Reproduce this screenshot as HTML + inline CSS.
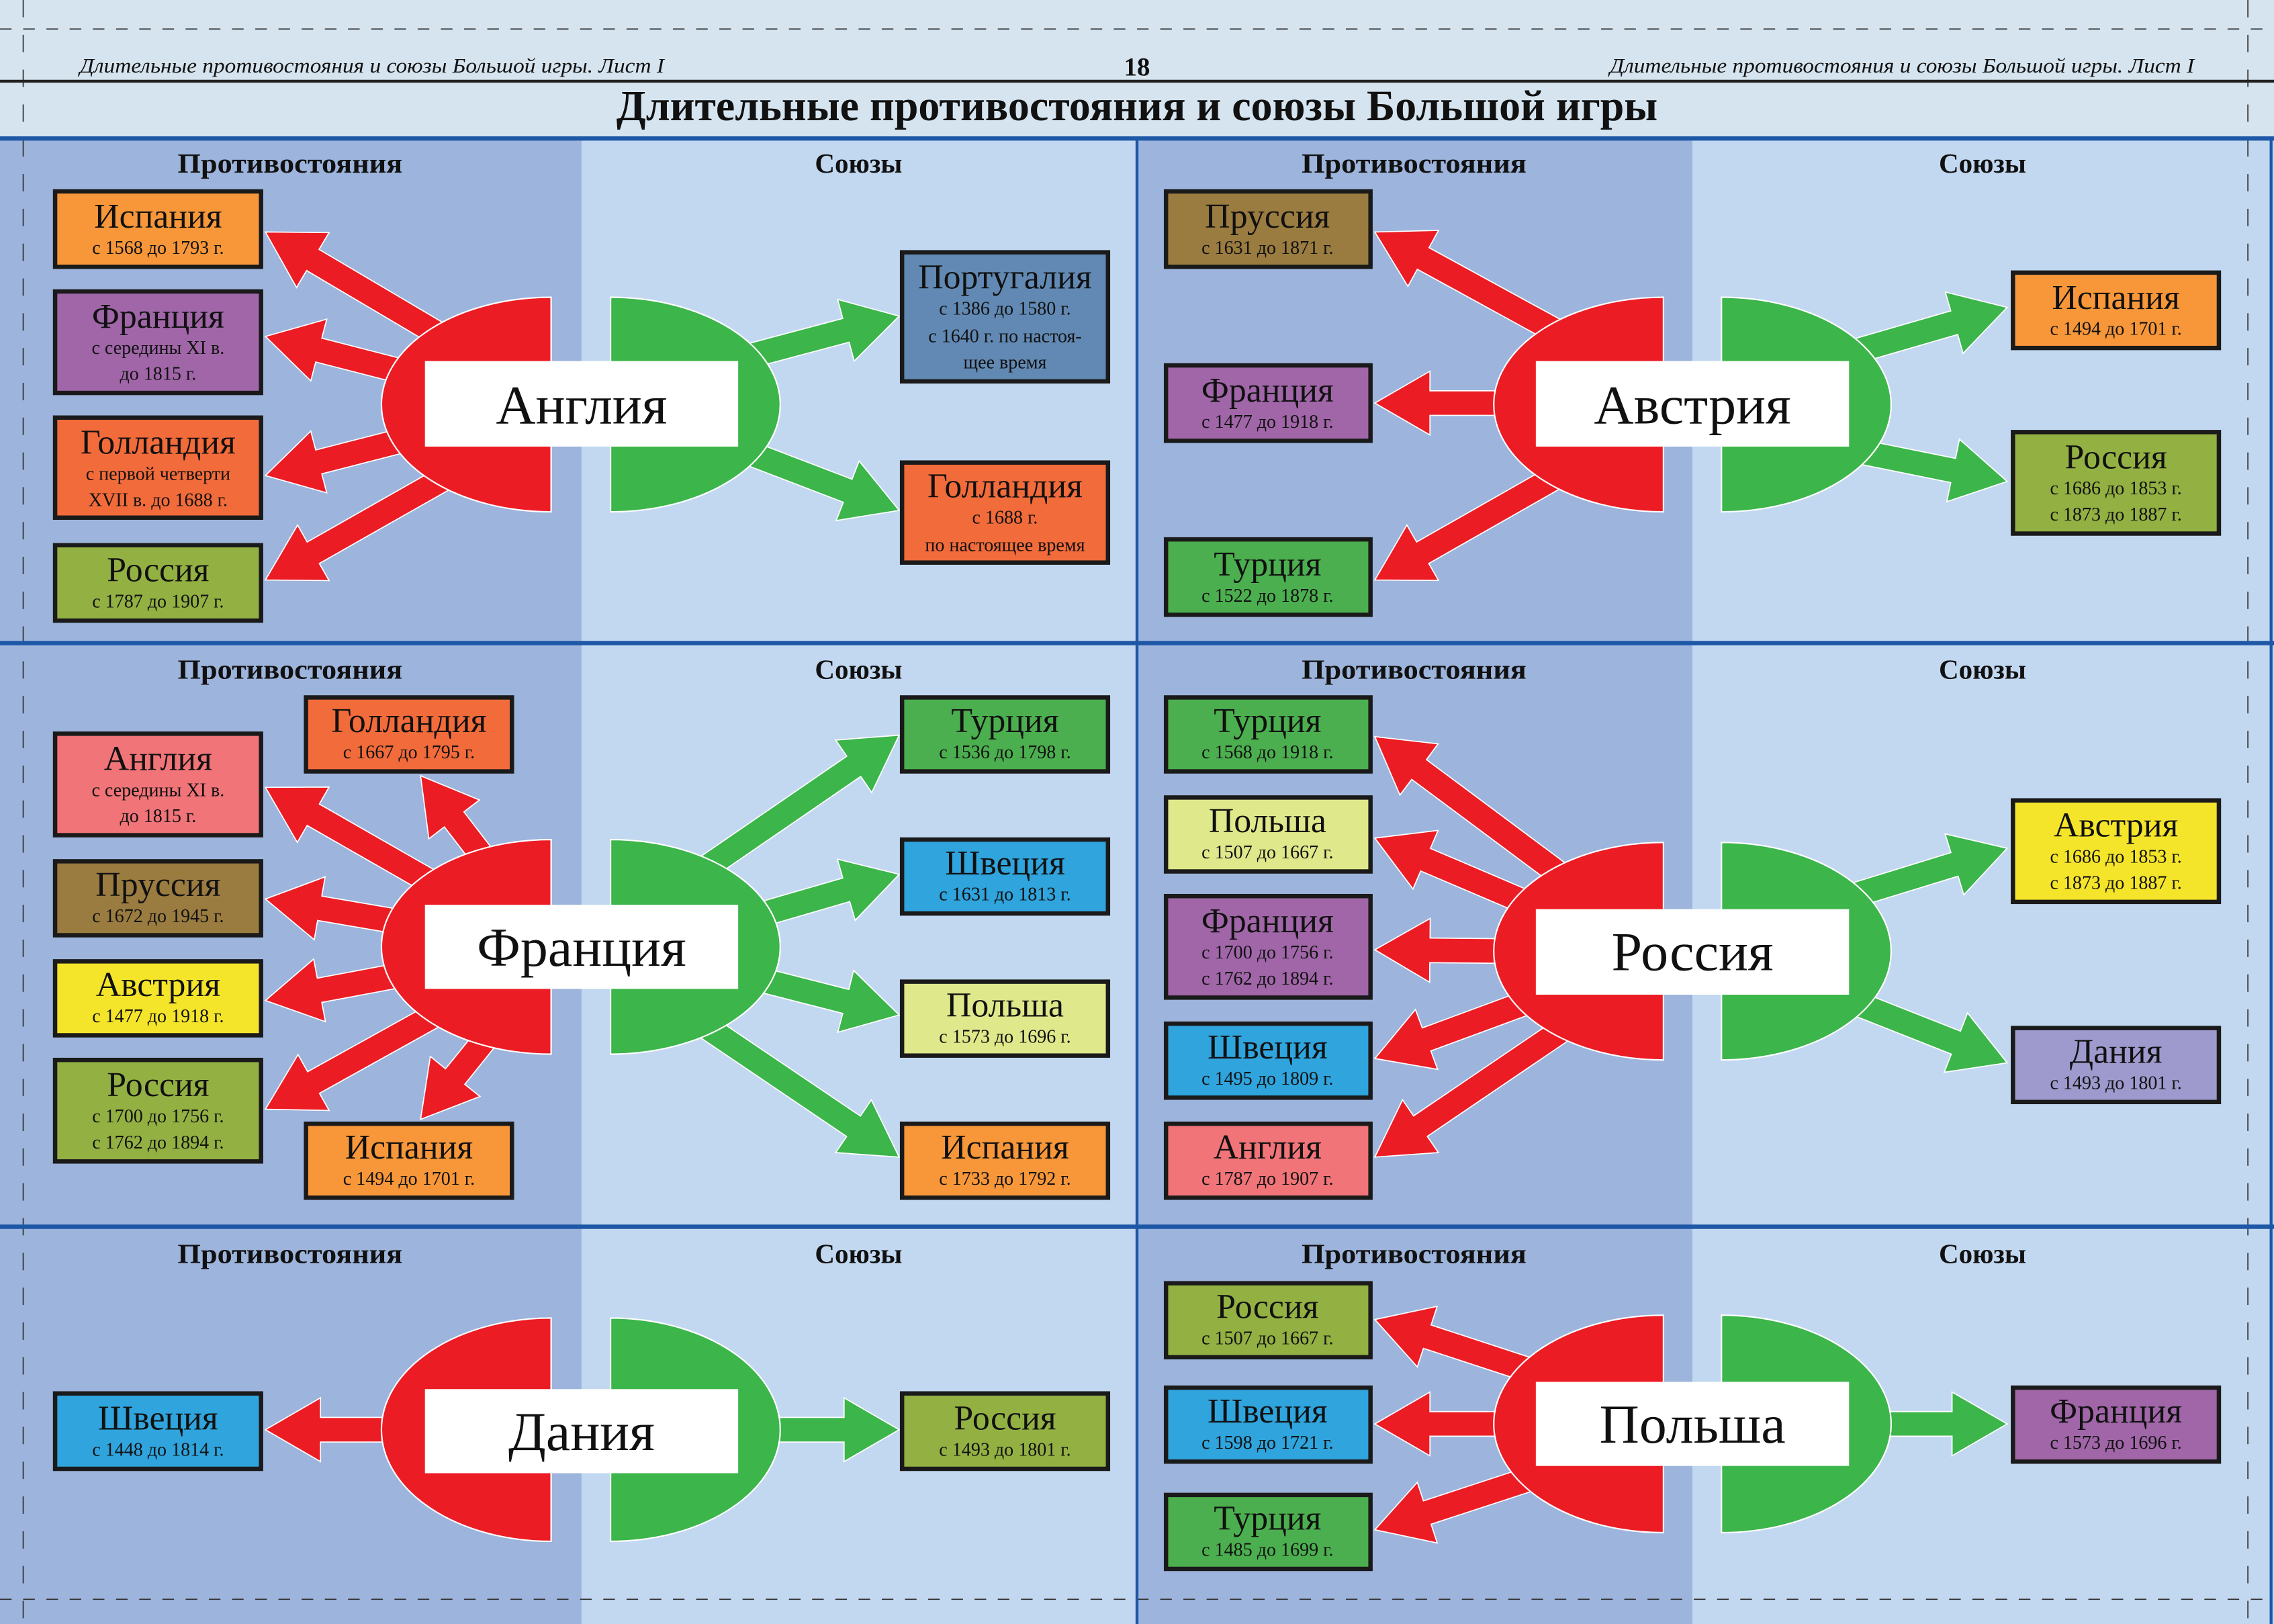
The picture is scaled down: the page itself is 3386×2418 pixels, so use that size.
<!DOCTYPE html>
<html><head><meta charset="utf-8"><style>
html,body{margin:0;padding:0;width:3386px;height:2418px;overflow:hidden;background:#d6e4ef}
svg{display:block}
text{font-family:"Liberation Serif","DejaVu Serif",serif;fill:#111}
.h{font-weight:bold;font-size:19px;text-anchor:middle}
.t{font-size:24px;text-anchor:middle}
.s{font-size:13px;text-anchor:middle}
.c{font-size:38px;text-anchor:middle}
.b{stroke:#1a1a1a;stroke-width:3}
</style></head><body>
<svg id="S" width="3386" height="2418" viewBox="0 0 1568 1120" preserveAspectRatio="none" xmlns="http://www.w3.org/2000/svg">
<rect x="0" y="0" width="1568" height="1120" fill="#d6e4ef"/>
<rect x="0" y="95" width="401" height="1025" fill="#9db4dc"/>
<rect x="401" y="95" width="383" height="1025" fill="#c2d8f0"/>
<rect x="784" y="95" width="383" height="1025" fill="#9db4dc"/>
<rect x="1167" y="95" width="401" height="1025" fill="#c2d8f0"/>
<line x1="0" y1="20" x2="1568" y2="20" stroke="#333" stroke-width="0.8" stroke-dasharray="8 8"/>
<line x1="16" y1="0" x2="16" y2="1120" stroke="#333" stroke-width="0.8" stroke-dasharray="12 12"/>
<line x1="1550" y1="0" x2="1550" y2="1120" stroke="#333" stroke-width="0.8" stroke-dasharray="12 12"/>
<line x1="0" y1="1103" x2="1568" y2="1103" stroke="#333" stroke-width="0.8" stroke-dasharray="8 8"/>
<text x="55" y="50" textLength="403" lengthAdjust="spacingAndGlyphs" style="font-size:14px;font-style:italic">Длительные противостояния и союзы Большой игры. Лист I</text>
<text x="784" y="52" style="font-size:18px;font-weight:bold;text-anchor:middle">18</text>
<text x="1110" y="50" textLength="403" lengthAdjust="spacingAndGlyphs" style="font-size:14px;font-style:italic">Длительные противостояния и союзы Большой игры. Лист I</text>
<line x1="0" y1="56" x2="1568" y2="56" stroke="#222" stroke-width="2"/>
<text x="425" y="83" textLength="718" lengthAdjust="spacingAndGlyphs" style="font-size:30px;font-weight:bold">Длительные противостояния и союзы Большой игры</text>
<g stroke="#1d57a6" stroke-width="3">
<line x1="0" y1="95.5" x2="1568" y2="95.5"/><line x1="0" y1="443.5" x2="1568" y2="443.5"/><line x1="0" y1="846" x2="1568" y2="846"/>
<line x1="784" y1="95" x2="784" y2="1120" stroke-width="2"/><line x1="1566" y1="95" x2="1566" y2="1120" stroke-width="2"/>
</g>
<g>
<text class="h" x="200" y="119" textLength="155" lengthAdjust="spacingAndGlyphs">Противостояния</text><text class="h" x="592" y="119">Союзы</text>
<text class="h" x="975" y="119" textLength="155" lengthAdjust="spacingAndGlyphs">Противостояния</text><text class="h" x="1367" y="119">Союзы</text>
<text class="h" x="200" y="468" textLength="155" lengthAdjust="spacingAndGlyphs">Противостояния</text><text class="h" x="592" y="468">Союзы</text>
<text class="h" x="975" y="468" textLength="155" lengthAdjust="spacingAndGlyphs">Противостояния</text><text class="h" x="1367" y="468">Союзы</text>
<text class="h" x="200" y="871" textLength="155" lengthAdjust="spacingAndGlyphs">Противостояния</text><text class="h" x="592" y="871">Союзы</text>
<text class="h" x="975" y="871" textLength="155" lengthAdjust="spacingAndGlyphs">Противостояния</text><text class="h" x="1367" y="871">Союзы</text>
</g>
<g id="arrows"></g>
<g stroke="#fff" stroke-width="1">
<path d="M380,205 A117,74 0 0 0 380,353 Z" fill="#ec1c24"/><path d="M421,205 A117,74 0 0 1 421,353 Z" fill="#3cb54a"/>
<path d="M1147,205 A117,74 0 0 0 1147,353 Z" fill="#ec1c24"/><path d="M1187,205 A117,74 0 0 1 1187,353 Z" fill="#3cb54a"/>
<path d="M380,579 A117,74 0 0 0 380,727 Z" fill="#ec1c24"/><path d="M421,579 A117,74 0 0 1 421,727 Z" fill="#3cb54a"/>
<path d="M1147,581 A117,75 0 0 0 1147,731 Z" fill="#ec1c24"/><path d="M1187,581 A117,75 0 0 1 1187,731 Z" fill="#3cb54a"/>
<path d="M380,909 A117,77 0 0 0 380,1063 Z" fill="#ec1c24"/><path d="M421,909 A117,77 0 0 1 421,1063 Z" fill="#3cb54a"/>
<path d="M1147,907 A117,75 0 0 0 1147,1057 Z" fill="#ec1c24"/><path d="M1187,907 A117,75 0 0 1 1187,1057 Z" fill="#3cb54a"/>
</g>
<g fill="#fff">
<rect x="293" y="249" width="216" height="59"/><rect x="1059" y="249" width="216" height="59"/>
<rect x="293" y="624" width="216" height="58"/><rect x="1059" y="627" width="216" height="59"/>
<rect x="293" y="958" width="216" height="58"/><rect x="1059" y="953" width="216" height="58"/>
</g>
<text class="c" x="401" y="292">Англия</text><text class="c" x="1167" y="292">Австрия</text>
<text class="c" x="401" y="666">Франция</text><text class="c" x="1167" y="669">Россия</text>
<text class="c" x="401" y="1000">Дания</text><text class="c" x="1167" y="995">Польша</text>

<g class="b">
<rect x="38" y="132" width="142" height="52" fill="#f7973a"/>
<rect x="38" y="201" width="142" height="70" fill="#a066a8"/>
<rect x="38" y="288" width="142" height="69" fill="#f26b3a"/>
<rect x="38" y="376" width="142" height="52" fill="#93b043"/>
<rect x="622" y="174" width="142" height="89" fill="#6189b3"/>
<rect x="622" y="319" width="142" height="69" fill="#f26b3a"/>
<rect x="804" y="132" width="141" height="52" fill="#9a7b40"/>
<rect x="804" y="252" width="141" height="52" fill="#a066a8"/>
<rect x="804" y="372" width="141" height="52" fill="#4caf4f"/>
<rect x="1388" y="188" width="142" height="52" fill="#f7973a"/>
<rect x="1388" y="298" width="142" height="70" fill="#93b043"/>
<rect x="38" y="506" width="142" height="70" fill="#f07478"/>
<rect x="211" y="481" width="142" height="51" fill="#f26b3a"/>
<rect x="38" y="594" width="142" height="51" fill="#9a7b40"/>
<rect x="38" y="663" width="142" height="51" fill="#f5e52a"/>
<rect x="38" y="731" width="142" height="70" fill="#93b043"/>
<rect x="211" y="775" width="142" height="51" fill="#f7973a"/>
<rect x="622" y="481" width="142" height="51" fill="#4caf4f"/>
<rect x="622" y="579" width="142" height="51" fill="#2fa4dd"/>
<rect x="622" y="677" width="142" height="51" fill="#dfe88a"/>
<rect x="622" y="775" width="142" height="51" fill="#f7973a"/>
<rect x="804" y="481" width="141" height="51" fill="#4caf4f"/>
<rect x="804" y="550" width="141" height="51" fill="#dfe88a"/>
<rect x="804" y="618" width="141" height="70" fill="#a066a8"/>
<rect x="804" y="706" width="141" height="51" fill="#2fa4dd"/>
<rect x="804" y="775" width="141" height="51" fill="#f07478"/>
<rect x="1388" y="552" width="142" height="70" fill="#f5e52a"/>
<rect x="1388" y="709" width="142" height="51" fill="#9e9acd"/>
<rect x="38" y="961" width="142" height="52" fill="#2fa4dd"/>
<rect x="622" y="961" width="142" height="52" fill="#93b043"/>
<rect x="804" y="885" width="141" height="51" fill="#93b043"/>
<rect x="804" y="957" width="141" height="51" fill="#2fa4dd"/>
<rect x="804" y="1031" width="141" height="51" fill="#4caf4f"/>
<rect x="1388" y="957" width="142" height="51" fill="#a066a8"/>
</g>
<text class="t" x="109" y="157">Испания</text><text class="s" x="109" y="175">с 1568 до 1793 г.</text>
<text class="t" x="109" y="226">Франция</text><text class="s" x="109" y="244">с середины XI в.</text><text class="s" x="109" y="262">до 1815 г.</text>
<text class="t" x="109" y="313">Голландия</text><text class="s" x="109" y="331">с первой четверти</text><text class="s" x="109" y="349">XVII в. до 1688 г.</text>
<text class="t" x="109" y="401">Россия</text><text class="s" x="109" y="419">с 1787 до 1907 г.</text>
<text class="t" x="693" y="199">Португалия</text><text class="s" x="693" y="217">с 1386 до 1580 г.</text><text class="s" x="693" y="236">с 1640 г. по настоя-</text><text class="s" x="693" y="254">щее время</text>
<text class="t" x="693" y="343">Голландия</text><text class="s" x="693" y="361">с 1688 г.</text><text class="s" x="693" y="380">по настоящее время</text>
<text class="t" x="874" y="157">Пруссия</text><text class="s" x="874" y="175">с 1631 до 1871 г.</text>
<text class="t" x="874" y="277">Франция</text><text class="s" x="874" y="295">с 1477 до 1918 г.</text>
<text class="t" x="874" y="397">Турция</text><text class="s" x="874" y="415">с 1522 до 1878 г.</text>
<text class="t" x="1459" y="213">Испания</text><text class="s" x="1459" y="231">с 1494 до 1701 г.</text>
<text class="t" x="1459" y="323">Россия</text><text class="s" x="1459" y="341">с 1686 до 1853 г.</text><text class="s" x="1459" y="359">с 1873 до 1887 г.</text>
<text class="t" x="109" y="531">Англия</text><text class="s" x="109" y="549">с середины XI в.</text><text class="s" x="109" y="567">до 1815 г.</text>
<text class="t" x="282" y="505">Голландия</text><text class="s" x="282" y="523">с 1667 до 1795 г.</text>
<text class="t" x="109" y="618">Пруссия</text><text class="s" x="109" y="636">с 1672 до 1945 г.</text>
<text class="t" x="109" y="687">Австрия</text><text class="s" x="109" y="705">с 1477 до 1918 г.</text>
<text class="t" x="109" y="756">Россия</text><text class="s" x="109" y="774">с 1700 до 1756 г.</text><text class="s" x="109" y="792">с 1762 до 1894 г.</text>
<text class="t" x="282" y="799">Испания</text><text class="s" x="282" y="817">с 1494 до 1701 г.</text>
<text class="t" x="693" y="505">Турция</text><text class="s" x="693" y="523">с 1536 до 1798 г.</text>
<text class="t" x="693" y="603">Швеция</text><text class="s" x="693" y="621">с 1631 до 1813 г.</text>
<text class="t" x="693" y="701">Польша</text><text class="s" x="693" y="719">с 1573 до 1696 г.</text>
<text class="t" x="693" y="799">Испания</text><text class="s" x="693" y="817">с 1733 до 1792 г.</text>
<text class="t" x="874" y="505">Турция</text><text class="s" x="874" y="523">с 1568 до 1918 г.</text>
<text class="t" x="874" y="574">Польша</text><text class="s" x="874" y="592">с 1507 до 1667 г.</text>
<text class="t" x="874" y="643">Франция</text><text class="s" x="874" y="661">с 1700 до 1756 г.</text><text class="s" x="874" y="679">с 1762 до 1894 г.</text>
<text class="t" x="874" y="730">Швеция</text><text class="s" x="874" y="748">с 1495 до 1809 г.</text>
<text class="t" x="874" y="799">Англия</text><text class="s" x="874" y="817">с 1787 до 1907 г.</text>
<text class="t" x="1459" y="577">Австрия</text><text class="s" x="1459" y="595">с 1686 до 1853 г.</text><text class="s" x="1459" y="613">с 1873 до 1887 г.</text>
<text class="t" x="1459" y="733">Дания</text><text class="s" x="1459" y="751">с 1493 до 1801 г.</text>
<text class="t" x="109" y="986">Швеция</text><text class="s" x="109" y="1004">с 1448 до 1814 г.</text>
<text class="t" x="693" y="986">Россия</text><text class="s" x="693" y="1004">с 1493 до 1801 г.</text>
<text class="t" x="874" y="909">Россия</text><text class="s" x="874" y="927">с 1507 до 1667 г.</text>
<text class="t" x="874" y="981">Швеция</text><text class="s" x="874" y="999">с 1598 до 1721 г.</text>
<text class="t" x="874" y="1055">Турция</text><text class="s" x="874" y="1073">с 1485 до 1699 г.</text>
<text class="t" x="1459" y="981">Франция</text><text class="s" x="1459" y="999">с 1573 до 1696 г.</text>
</svg>
<script>
(function(){
var R="#ec1c24",G="#3cb54a";
var A=[
[310,235,183,160,R],[300,262,183,232,R],[300,298,183,328,R],[315,325,183,400,R],
[500,250,620,218,G],[505,308,620,352,G],
[1085,235,948,160,R],[1060,278,948,278,R],[1085,322,948,400,R],
[1270,245,1384,212,G],[1275,310,1384,332,G],
[300,610,183,543,R],[340,600,290,535,R],[300,640,183,620,R],[300,668,183,690,R],[300,700,183,765,R],[340,710,290,772,R],
[470,610,620,507,G],[510,635,620,603,G],[510,672,620,700,G],[475,700,620,798,G],
[1085,610,948,508,R],[1070,630,948,578,R],[1050,656,948,655,R],[1070,685,948,730,R],[1085,705,948,798,R],
[1270,620,1384,585,G],[1275,690,1384,733,G],
[280,986,183,986,R],[520,986,620,986,G],
[1070,950,948,910,R],[1050,982,948,982,R],[1070,1015,948,1055,R],[1290,982,1384,982,G]
];
var g=document.getElementById("arrows"),ns="http://www.w3.org/2000/svg";
A.forEach(function(a){
var dx=a[2]-a[0],dy=a[3]-a[1],L=Math.sqrt(dx*dx+dy*dy),ux=dx/L,uy=dy/L,px=-uy,py=ux;
var w=8.5,hw=22,hl=38,bx=a[2]-ux*hl,by=a[3]-uy*hl;
var p=[[a[0]+px*w,a[1]+py*w],[bx+px*w,by+py*w],[bx+px*hw,by+py*hw],[a[2],a[3]],[bx-px*hw,by-py*hw],[bx-px*w,by-py*w],[a[0]-px*w,a[1]-py*w]];
var e=document.createElementNS(ns,"polygon");
e.setAttribute("points",p.map(function(q){return q[0].toFixed(1)+","+q[1].toFixed(1)}).join(" "));
e.setAttribute("fill",a[4]);e.setAttribute("stroke","#fff");e.setAttribute("stroke-width","0.8");
g.appendChild(e);
});
})();
</script>
</body></html>
